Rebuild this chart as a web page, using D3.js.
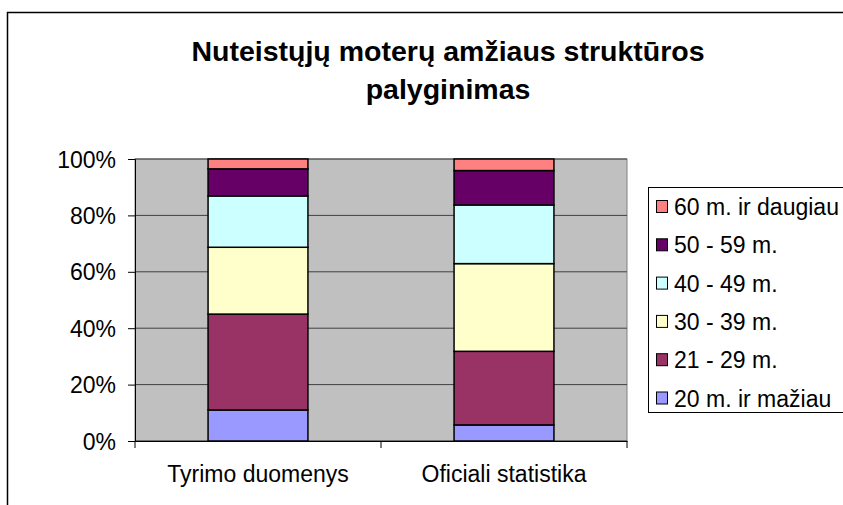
<!DOCTYPE html>
<html>
<head>
<meta charset="utf-8">
<script src="https://cdn.jsdelivr.net/npm/d3@7"></script>
<style>
  body { margin: 0; background: #fff; overflow: hidden; }
  text { font-family: "Liberation Sans", Arial, sans-serif; }
</style>
</head>
<body>
<div id="chart"></div>
<script>
var categories = ["Tyrimo duomenys", "Oficiali statistika"];
var groups = ["20 m. ir mažiau", "21 - 29 m.", "30 - 39 m.", "40 - 49 m.", "50 - 59 m.", "60 m. ir daugiau"];
var colors = ["#9999FF", "#993366", "#FFFFCC", "#CCFFFF", "#660066", "#FF8080"];
var tyrimo = [11.0, 34.0, 23.7, 18.2, 9.6, 3.5];
var oficiali = [5.7, 26.1, 31.1, 20.8, 12.2, 4.1];
var yTicks = [0, 0.2, 0.4, 0.6, 0.8, 1];

var svgWidth = 843, svgHeight = 505;
var plot = { left: 135, right: 627, top: 159, bottom: 441 };
var fontSize = 23;

var svg = d3.select("#chart").append("svg")
  .attr("width", svgWidth)
  .attr("height", svgHeight)
  .style("display", "block");

// outer frame
svg.append("rect")
  .attr("x", 7.5).attr("y", 12.5)
  .attr("width", 860).attr("height", 520)
  .attr("fill", "#fff").attr("stroke", "#000").attr("stroke-width", 1.5);

// title
svg.append("text").attr("x", 448).attr("y", 61)
  .attr("text-anchor", "middle").attr("font-size", 28.5).attr("font-weight", "bold")
  .text("Nuteistųjų moterų amžiaus struktūros");
svg.append("text").attr("x", 448).attr("y", 99)
  .attr("text-anchor", "middle").attr("font-size", 28.5).attr("font-weight", "bold")
  .text("palyginimas");

var rows = categories.map(function (c, i) {
  var vals = i === 0 ? tyrimo : oficiali;
  var total = d3.sum(vals);
  var row = { cat: c };
  groups.forEach(function (g, j) { row[g] = vals[j] / total; });
  return row;
});

var stacked = d3.stack().keys(groups)(rows);

var xScale = d3.scaleBand()
  .domain(categories)
  .range([plot.left, plot.right])
  .paddingInner(0.594)
  .paddingOuter(0.297);

var yScale = d3.scaleLinear()
  .domain([0, 1])
  .range([plot.bottom, plot.top]);

// plot area
svg.append("rect")
  .attr("x", plot.left).attr("y", plot.top)
  .attr("width", plot.right - plot.left).attr("height", plot.bottom - plot.top)
  .attr("fill", "#C0C0C0").attr("stroke", "#808080").attr("stroke-width", 1);

// gridlines
svg.append("g").selectAll("line")
  .data(yTicks)
  .enter().append("line")
  .attr("x1", plot.left).attr("x2", plot.right)
  .attr("y1", function (d) { return yScale(d); })
  .attr("y2", function (d) { return yScale(d); })
  .attr("stroke", "#404040").attr("stroke-width", 1);

// bars
svg.append("g").selectAll("g")
  .data(stacked)
  .enter().append("g")
  .attr("fill", function (d, i) { return colors[i]; })
  .selectAll("rect")
  .data(function (d) { return d; })
  .enter().append("rect")
  .attr("x", function (d) { return xScale(d.data.cat); })
  .attr("y", function (d) { return yScale(d[1]); })
  .attr("width", xScale.bandwidth())
  .attr("height", function (d) { return yScale(d[0]) - yScale(d[1]); })
  .attr("stroke", "#000").attr("stroke-width", 1.5);

// y axis
var yAxis = d3.axisLeft(yScale)
  .tickValues(yTicks)
  .tickFormat(d3.format(".0%"))
  .tickSize(7);
var yg = svg.append("g")
  .attr("transform", "translate(" + plot.left + ",0)")
  .call(yAxis);
yg.select(".domain").attr("stroke", "#000");
yg.selectAll(".tick line").attr("stroke", "#000");
yg.selectAll(".tick text")
  .attr("font-size", fontSize).attr("fill", "#000")
  .attr("font-family", "Liberation Sans, Arial, sans-serif")
  .attr("x", -19).attr("dy", "0.35em");

// x axis
var xAxis = d3.axisBottom(xScale).tickSize(0);
var xg = svg.append("g")
  .attr("transform", "translate(0," + plot.bottom + ")")
  .call(xAxis);
xg.select(".domain").attr("stroke", "#000");
xg.selectAll(".tick text")
  .attr("font-size", fontSize).attr("fill", "#000")
  .attr("font-family", "Liberation Sans, Arial, sans-serif")
  .attr("y", 41).attr("dy", 0);
// category boundary ticks
var boundaries = [plot.left, (plot.left + plot.right) / 2, plot.right];
xg.selectAll(".bnd").data(boundaries).enter().append("line")
  .attr("class", "bnd")
  .attr("x1", function (d) { return d; }).attr("x2", function (d) { return d; })
  .attr("y1", 0).attr("y2", 7)
  .attr("stroke", "#000");

// legend
var legend = svg.append("g");
legend.append("rect")
  .attr("x", 648.5).attr("y", 187.5)
  .attr("width", 220).attr("height", 225)
  .attr("fill", "#fff").attr("stroke", "#000").attr("stroke-width", 1);
var items = legend.selectAll(".item")
  .data(groups.slice().reverse())
  .enter().append("g")
  .attr("class", "item")
  .attr("transform", function (d, i) { return "translate(656," + (207 + i * 38.3) + ")"; });
items.append("rect")
  .attr("x", 0.5).attr("y", -6.5)
  .attr("width", 11).attr("height", 12)
  .attr("fill", function (d) { return colors[groups.indexOf(d)]; })
  .attr("stroke", "#000").attr("stroke-width", 1);
items.append("text")
  .attr("x", 18).attr("y", 0).attr("dy", "0.35em")
  .attr("font-size", fontSize)
  .text(function (d) { return d; });
</script>
</body>
</html>
